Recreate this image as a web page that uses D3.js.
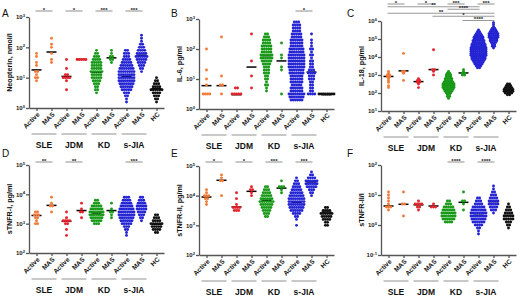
<!DOCTYPE html>
<html>
<head>
<meta charset="utf-8">
<script src="https://cdn.jsdelivr.net/npm/d3@7"></script>
<style>
  body { margin: 0; background: #fff; }
  text { font-family: "Liberation Sans", Arial, sans-serif; }
</style>
</head>
<body>
<svg width="520" height="298"></svg>
<script>
// categories along every x axis (index based, labels repeat)
const categories = ['Active', 'MAS', 'Active', 'MAS', 'Active', 'MAS', 'Active', 'MAS', 'HC'];
const groups = ['SLE', 'JDM', 'KD', 's-JIA'];
const colors = ['#f47a38', '#f47a38', '#e3232c', '#e3232c', '#189a18', '#189a18', '#2424d4', '#2424d4', '#111'];

// dot rows: lowest row (log10) + count of dots per 0.1-decade row
// A  neopterin
const neoLow = [0.9, 1.5, 0.6, 1.6, 0.5, 1.5, 0.2, 1.2, 0.2];
const neoRows = [
  [1,2,1,2,0,1,1,0,1,1],
  [1,1,0,1,0,1,1,0,1],
  [1,0,0,1,4,2,0,1,0,0,1],
  [5],
  [1,2,2,3,4,5,5,6,5,5,5,4,3,2,1],
  [1,2,2,1,1],
  [1,1,2,3,5,6,7,8,8,8,8,7,6,5,4,3,3,2],
  [1,2,3,4,5,6,5,4,3,2,1,1,1],
  [1,2,3,4,6,4,3,2,1]
];
const neoMedian = [18, 70, 11, 40, 15, 45, 11, 55, 4.3];
const neoSig = [[0,1,'*',0],[2,3,'*',0],[4,5,'***',0],[6,7,'***',0]];

// B  IL-6
const il6Low = [0.5, 0.5, 0.5, 0.7, 0.6, 0.5, 0.3, 0.5, 0.5];
const il6Rows = [
  [4,0,0,1,0,1,0,0,1,0,0,0,0,0,0,1],
  [1,0,0,2,0,0,1,0,0,0,0,0,0,0,0,0,0,0,0,1],
  [5,0,2],
  [1,0,0,0,1,0,0,0,0,1,0,0,0,0,0,0,0,0,1],
  [1,1,2,1,2,2,3,3,3,4,5,6,6,5,5,5,4,4,3,2],
  [1,0,0,0,0,0,0,0,1,1,0,0,1,1,0,0,0,1],
  [6,7,8,6,6,5,6,6,6,7,7,8,8,8,8,8,7,7,6,6,6,5,5,4,4,4,3],
  [4,2,2,2,2,3,3,4,3,2,2,2,1,2,1,2,1,1,1,0,1],
  [8]
];
const il6Median = [6, 6, 3, 25, 60, 40, 40, 17, 3];
const il6Sig = [[6,7,'*',0]];

// C  IL-18
const il18Low = [2.3, 2.7, 2.3, 3.0, 1.7, 3.0, 3.4, 4.5, 1.9];
const il18Rows = [
  [1,1,0,1,1,1,2,2,1,1],
  [1,0,0,0,1,2,0,0,0,0,0,0,0,0,0,1],
  [1,0,1,2,2,1],
  [1,0,1,2,0,0,0,0,0,0,0,0,0,0,1],
  [1,2,2,3,4,5,6,6,6,5,4,4,3,3,2,1],
  [2,2,1,1],
  [2,3,4,5,6,7,7,8,8,8,8,8,7,7,6,6,5,5,4,3,2,1],
  [1,2,2,3,4,4,5,5,5,4,3,2,1,1,1],
  [2,4,5,5,4,3,2]
];
const il18Median = [830, 1700, 430, 2000, 260, 1300, 27000, 200000, 140];
const il18Sig = [[0,1,'*',0],[2,3,'*',0],[4,5,'***',0],[6,7,'***',0],
  [0,6,'**',1],[4,6,'****',2],[0,7,'**',3],[3,7,'*',4],[5,7,'****',5]];

// D  sTNFR-I
const tnfr1Low = [3.0, 3.4, 2.6, 3.2, 3.0, 3.2, 2.6, 3.1, 2.7];
const tnfr1Rows = [
  [2,1,2,3,2],
  [1,0,2,1,0,1],
  [1,0,1,0,2,4,1,0,1],
  [1,0,2,1,0,1],
  [3,5,6,7,7,6,5,3,2],
  [1,1,2,1,0,1],
  [1,1,2,3,5,6,7,8,8,7,6,5,4,3],
  [1,2,3,4,5,5,4,3,2],
  [2,4,5,6,4,3,2]
];
const tnfr1Median = [1900, 4200, 1200, 2800, 2300, 2800, 2000, 4000, 950];
const tnfr1Sig = [[0,1,'**',0],[2,3,'**',0],[6,7,'***',0]];

// E  sTNFR-II
const tnfr2Low = [3.7, 4.0, 3.5, 4.0, 3.3, 4.1, 3.0, 4.0, 3.0];
const tnfr2Rows = [
  [1,1,2,3,1,1],
  [1,0,0,0,0,2,1,1],
  [3,4,1,0,1,0,1],
  [1,1,2,1],
  [2,3,4,5,6,7,6,5,4,3,2],
  [1,1,3,0,1],
  [1,0,1,2,4,6,7,8,8,8,7,6,5,4,3,2,1],
  [1,2,3,5,6,6,4,2,1],
  [2,2,4,5,6,4,2]
];
const tnfr2Median = [9000, 33000, 4200, 14000, 7000, 18000, 6000, 29000, 2800];
const tnfr2Sig = [[0,1,'*',0],[2,3,'*',0],[4,5,'***',0],[6,7,'***',0]];

// F  sTNFR-II/I
const ratioLow = [0.5, 0.3, 0.5, 0.6, 0.1, 0.5, -0.3, 0.4, -0.1];
const ratioRows = [
  [1,3,1,1,1,1,1],
  [1,0,0,0,2,0,0,0,1],
  [1,2,4,1],
  [3,1],
  [4,6,7,7,6,5,3,2],
  [1,0,1,2,0,0,1],
  [1,1,2,4,6,7,8,8,7,6,4,3,2],
  [1,3,4,5,5,4,3,2,1,1],
  [1,2,3,5,5,4,3,2,1]
];
const ratioMedian = [4.3, 4.9, 4.7, 4.3, 2.5, 5.7, 2.1, 6, 2.1];
const ratioSig = [[4,5,'****',0],[6,7,'****',0]];

const svg = d3.select('svg');

const panels = [
  {letter: 'A', lx: 2,   x0: 0,   top: 17,  bottom: 108, domain: [1, 1e3],   label: 'Neopterin, nmol/l', low: neoLow,   rows: neoRows,   median: neoMedian,   sig: neoSig,   levels: [11]},
  {letter: 'B', lx: 171, x0: 170, top: 19,  bottom: 109, domain: [1, 1e3],   label: 'IL-6, pg/ml',       low: il6Low,   rows: il6Rows,   median: il6Median,   sig: il6Sig,   levels: [11]},
  {letter: 'C', lx: 347, x0: 352, top: 21,  bottom: 111, domain: [10, 1e6],  label: 'IL-18, pg/ml',      low: il18Low,  rows: il18Rows,  median: il18Median,  sig: il18Sig,  levels: [4, 6.7, 9.3, 13.3, 16.3, 20.5]},
  {letter: 'D', lx: 2,   x0: 0,   top: 165, bottom: 253, domain: [100, 1e5], label: 'sTNFR-I, pg/ml',    low: tnfr1Low, rows: tnfr1Rows, median: tnfr1Median, sig: tnfr1Sig, levels: [162]},
  {letter: 'E', lx: 171, x0: 170, top: 166, bottom: 255, domain: [100, 1e5], label: 'sTNFR-II, pg/ml',   low: tnfr2Low, rows: tnfr2Rows, median: tnfr2Median, sig: tnfr2Sig, levels: [162]},
  {letter: 'F', lx: 347, x0: 352, top: 165, bottom: 255, domain: [0.1, 100], label: 'sTNFR-II/I',        low: ratioLow, rows: ratioRows, median: ratioMedian, sig: ratioSig, levels: [162]}
];

panels.forEach(p => {
  const g = svg.append('g').attr('transform', 'translate(' + p.x0 + ',0)');

  const x = d3.scalePoint()
    .domain(d3.range(categories.length))
    .range([29, 164])
    .padding(0.5);

  const y = d3.scaleLog()
    .domain(p.domain)
    .range([p.bottom, p.top]);

  const e0 = Math.round(Math.log10(p.domain[0]));
  const e1 = Math.round(Math.log10(p.domain[1]));
  const tickVals = d3.range(e0, e1 + 1).map(e => Math.pow(10, e));

  // y axis
  const yAxisG = g.append('g')
    .attr('transform', 'translate(29,0)')
    .call(d3.axisLeft(y).tickValues(tickVals).tickSize(3).tickSizeOuter(0).tickFormat(() => ''));
  yAxisG.selectAll('path, line').attr('stroke', '#555').attr('stroke-width', 1.3);
  yAxisG.selectAll('.tick text').each(function(d) {
    const t = d3.select(this)
      .attr('x', -4)
      .attr('font-size', 6)
      .attr('font-weight', 'bold')
      .attr('fill', '#222')
      .style('font-family', '"Liberation Sans", Arial, sans-serif');
    t.append('tspan').text('10');
    t.append('tspan').attr('font-size', 4.2).attr('dy', -2.5).text(Math.round(Math.log10(d)));
  });

  g.append('text')
    .attr('transform', 'translate(12,' + ((p.top + p.bottom) / 2) + ') rotate(-90)')
    .attr('text-anchor', 'middle')
    .attr('font-size', 7.2)
    .attr('font-weight', 'bold')
    .attr('fill', '#111')
    .text(p.label);

  // x axis
  const xAxisG = g.append('g')
    .attr('transform', 'translate(0,' + p.bottom + ')')
    .call(d3.axisBottom(x).tickSize(3).tickSizeOuter(0).tickFormat(i => categories[i]));
  xAxisG.selectAll('path, line').attr('stroke', '#555').attr('stroke-width', 1.3);
  xAxisG.selectAll('.tick text')
    .attr('y', 0)
    .attr('dy', 0)
    .attr('text-anchor', 'end')
    .attr('transform', 'translate(3,7) rotate(-45)')
    .attr('font-size', 6.6)
    .attr('font-weight', 'bold')
    .attr('fill', '#111')
    .style('font-family', '"Liberation Sans", Arial, sans-serif');

  // group lines + labels
  groups.forEach((name, gi) => {
    const xa = x(gi * 2), xb = x(gi * 2 + 1);
    g.append('line')
      .attr('x1', xa - 5).attr('x2', xb + 5)
      .attr('y1', p.bottom + 26).attr('y2', p.bottom + 26)
      .attr('stroke', '#aaa').attr('stroke-width', 1.3);
    g.append('text')
      .attr('x', (xa + xb) / 2)
      .attr('y', p.bottom + 40)
      .attr('text-anchor', 'middle')
      .attr('font-size', 8.5)
      .attr('font-weight', 'bold')
      .attr('fill', '#111')
      .text(name);
  });

  // medians (drawn under the dots, dense groups hide them as in Prism)
  g.selectAll('line.median')
    .data(p.median)
    .enter()
    .append('line')
    .attr('class', 'median')
    .attr('x1', (d, i) => x(i) - 5)
    .attr('x2', (d, i) => x(i) + 5)
    .attr('y1', d => y(d))
    .attr('y2', d => y(d))
    .attr('stroke', '#000')
    .attr('stroke-width', 1.5);

  // dots
  const pts = [];
  p.rows.forEach((rows, i) => {
    rows.forEach((n, k) => {
      if (!n) return;
      const v = Math.pow(10, p.low[i] + k / 10);
      const s = n > 1 ? Math.min(2.2, 15 / (n - 1)) : 0;
      for (let j = 0; j < n; j++) {
        pts.push({i: i, v: v, off: (j - (n - 1) / 2) * s});
      }
    });
  });

  g.selectAll('circle.dot')
    .data(pts)
    .enter()
    .append('circle')
    .attr('class', 'dot')
    .attr('cx', d => x(d.i) + d.off)
    .attr('cy', d => y(d.v))
    .attr('r', 1.45)
    .attr('fill', d => colors[d.i]);

  // significance brackets
  p.sig.forEach(s => {
    const ly = p.levels[s[3]];
    g.append('line')
      .attr('x1', x(s[0]) - 1).attr('x2', x(s[1]) + 1)
      .attr('y1', ly).attr('y2', ly)
      .attr('stroke', '#999').attr('stroke-width', 1.1);
    g.append('text')
      .attr('x', (x(s[0]) + x(s[1])) / 2)
      .attr('y', ly + 0.5)
      .attr('text-anchor', 'middle')
      .attr('font-size', 6)
      .attr('font-weight', 'bold')
      .attr('fill', '#222')
      .text(s[2]);
  });

  svg.append('text')
    .attr('x', p.lx)
    .attr('y', p.top < 100 ? 17 : 157)
    .attr('font-size', 10)
    .attr('fill', '#111')
    .text(p.letter);
});
</script>
</body>
</html>
